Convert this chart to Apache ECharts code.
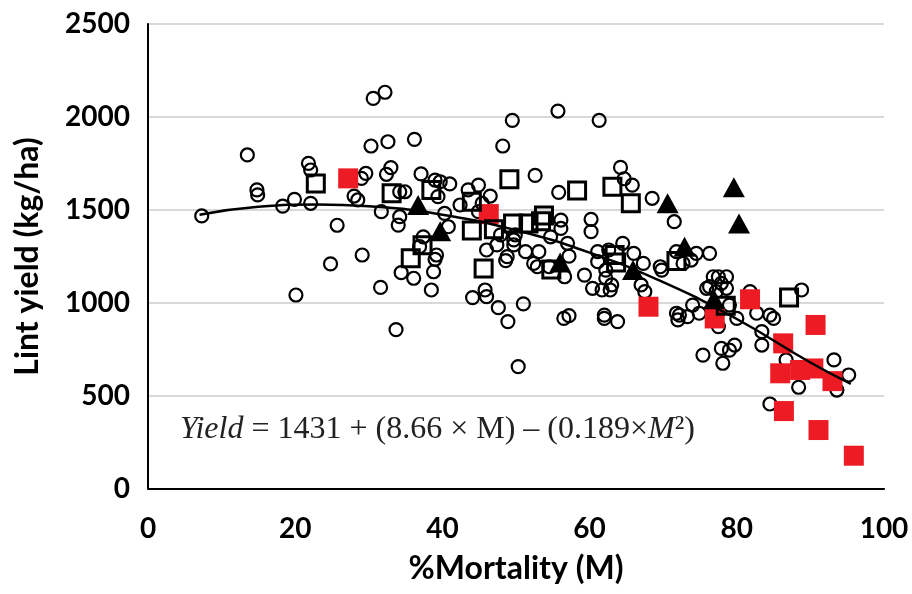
<!DOCTYPE html>
<html>
<head>
<meta charset="utf-8">
<script src="https://cdn.jsdelivr.net/npm/echarts@6/dist/echarts.min.js"></script>
<style>
  html, body { margin: 0; padding: 0; background: #fff; }
  #chart { width: 912px; height: 594px; }
</style>
</head>
<body>
<div id="chart"></div>
<script>
// open circles: [%mortality, lint yield]
const circlePoints = [
  [7.3, 1468], [13.5, 1796], [14.8, 1608], [14.9, 1581], [18.3, 1521], [19.9, 1557],
  [20.1, 1043], [21.8, 1751], [22.1, 1715], [22.1, 1536], [24.8, 1210], [25.7, 1418],
  [28.0, 1575], [28.5, 1554], [29.0, 1670], [29.1, 1258], [29.6, 1697], [30.3, 1844],
  [30.6, 2100], [31.6, 1084], [31.7, 1491], [32.2, 2133], [32.6, 1867], [33.0, 1728],
  [32.4, 1692], [33.7, 857], [34.2, 1598], [34.9, 1598], [34.4, 1163], [34.2, 1464],
  [34.0, 1419], [36.1, 1133], [36.2, 1880], [37.1, 1694], [37.4, 1356], [36.9, 1303],
  [38.5, 1070], [38.8, 1168], [39.0, 1235], [39.2, 1258], [39.0, 1661], [39.7, 1652],
  [41.0, 1640], [39.4, 1572], [40.3, 1482], [40.8, 1410], [42.4, 1527], [43.5, 1608],
  [44.9, 1634], [46.5, 1575], [45.4, 1536], [44.9, 1491], [45.8, 1070], [46.0, 1034],
  [44.1, 1029], [47.6, 975], [48.2, 1844], [49.5, 1982], [48.9, 900], [50.3, 658],
  [51.0, 995], [46.0, 1285], [47.4, 1312], [47.9, 1366], [48.6, 1228], [48.8, 1249],
  [49.7, 1339], [49.7, 1312], [49.9, 1366], [51.3, 1276], [53.1, 1276], [52.4, 1213],
  [52.9, 1195], [54.5, 1195], [52.6, 1686], [54.7, 1356], [55.8, 1595], [55.7, 2032],
  [56.1, 1446], [56.1, 1401], [57.0, 1321], [57.2, 1252], [56.6, 1141], [56.5, 917],
  [57.2, 932], [59.3, 1150], [60.2, 1450], [60.2, 1384], [60.4, 1079], [61.3, 1982],
  [61.1, 1276], [61.1, 1222], [61.7, 1070], [62.2, 1177], [62.2, 1133], [62.8, 1070],
  [63.0, 1097], [62.0, 935], [62.0, 917], [63.8, 900], [64.2, 1729], [64.7, 1668],
  [64.5, 1321], [65.8, 1634], [66.0, 1267], [62.6, 1285], [67.3, 1213], [67.0, 1097],
  [67.5, 1061], [68.5, 1563], [69.6, 1195], [69.8, 1177], [71.5, 1437], [71.8, 1276],
  [72.7, 1213], [73.8, 1231], [74.5, 1267], [76.3, 1267], [76.8, 1141], [77.5, 1141],
  [77.9, 1106], [78.6, 1141], [76.3, 1088], [77.2, 1061], [75.9, 1079], [78.6, 1079],
  [72.2, 935], [73.3, 927], [74.0, 989], [74.9, 945], [72.0, 909], [77.5, 873],
  [71.8, 945], [79.0, 989], [80.0, 917], [81.8, 1061], [82.7, 945], [84.5, 935],
  [85.0, 917], [83.4, 846], [83.4, 774], [75.4, 720], [78.1, 676], [77.9, 756],
  [79.0, 747], [79.7, 774], [88.8, 1070], [93.2, 694], [95.2, 613], [88.4, 547],
  [84.5, 457], [93.6, 532], [86.7, 694]
];

// open squares
const squarePoints = [
  [22.8, 1643], [33.1, 1590], [38.5, 1608], [35.7, 1240], [37.3, 1310], [44.0, 1545],
  [44.0, 1390], [45.6, 1186], [47.0, 1397], [49.1, 1665], [49.6, 1428], [51.7, 1428],
  [53.4, 1440], [53.8, 1470], [54.8, 1180], [58.3, 1605], [63.1, 1625], [65.6, 1536],
  [63.4, 1258], [63.6, 1218], [71.8, 1226], [78.5, 985], [87.1, 1030]
];

// filled triangles
const trianglePoints = [
  [36.7, 1527], [39.7, 1386], [56.0, 1218], [65.9, 1177], [70.6, 1536],
  [72.9, 1303], [76.9, 1020], [79.6, 1622], [80.3, 1428]
];

// red squares
const redPoints = [
  [27.2, 1670], [46.3, 1478], [68.0, 980], [77.0, 917], [81.8, 1020], [86.3, 783],
  [90.7, 882], [85.9, 622], [88.6, 640], [90.4, 648], [93.0, 580], [86.4, 419],
  [91.1, 317], [95.9, 179]
];

// fitted curve
const curvePoints = [
  [7, 1475], [15, 1518], [23, 1530], [30, 1520], [40, 1475], [50, 1391],
  [60, 1271], [70, 1112], [80, 914], [90, 680], [95.5, 565]
];

const xTicks = [0, 20, 40, 60, 80, 100];
const yTicks = [0, 500, 1000, 1500, 2000, 2500];

const chart = echarts.init(document.getElementById('chart'));

const labelFont = 'Lato, "Open Sans", sans-serif';

chart.setOption({
  animation: false,
  grid: { left: 148, right: 28, top: 24, bottom: 105 },
  xAxis: [
    {
      type: 'value',
      min: xTicks[0],
      max: xTicks[xTicks.length - 1],
      interval: 20,
      name: '%Mortality (M)',
      nameLocation: 'middle',
      nameGap: 64,
      nameTextStyle: { fontFamily: labelFont, fontWeight: 'bold', fontSize: 32, color: '#000' },
      axisLine: { lineStyle: { color: '#bfbfbf', width: 2 } },
      axisTick: { show: false },
      splitLine: { show: false },
      axisLabel: { margin: 26, fontFamily: labelFont, fontWeight: 'bold', fontSize: 28, color: '#000' }
    },
    {
      type: 'value', position: 'top', min: 0, max: 100,
      axisLine: { show: true, lineStyle: { color: '#000', width: 2 } },
      axisTick: { show: false }, axisLabel: { show: false }, splitLine: { show: false }
    }
  ],
  yAxis: [
    {
      type: 'value',
      min: yTicks[0],
      max: yTicks[yTicks.length - 1],
      interval: 500,
      name: 'Lint yield (kg/ha)',
      nameLocation: 'middle',
      nameGap: 104,
      nameRotate: 90,
      nameTextStyle: { fontFamily: labelFont, fontWeight: 'bold', fontSize: 32, color: '#000' },
      axisLine: { show: true, lineStyle: { color: '#bfbfbf', width: 2 } },
      axisTick: { show: false },
      splitLine: { lineStyle: { color: '#d9d9d9', width: 2 } },
      axisLabel: {
        margin: 18, fontFamily: labelFont, fontWeight: 'bold', fontSize: 28, color: '#000',
        formatter: function (v) { return String(v); }
      }
    },
    {
      type: 'value', position: 'right', min: 0, max: 2500,
      axisLine: { show: true, lineStyle: { color: '#000', width: 2 } },
      axisTick: { show: false }, axisLabel: { show: false }, splitLine: { show: false }
    }
  ],
  series: [
    {
      type: 'scatter',
      data: circlePoints,
      symbol: 'circle',
      symbolSize: 13,
      itemStyle: { color: 'rgba(255,255,255,0)', borderColor: '#000', borderWidth: 2.2, opacity: 1 },
      z: 2
    },
    {
      type: 'scatter',
      data: redPoints,
      symbol: 'rect',
      symbolSize: 20,
      itemStyle: { color: '#ed1c24', opacity: 1 },
      z: 3
    },
    {
      type: 'scatter',
      data: squarePoints,
      symbol: 'rect',
      symbolSize: 17,
      itemStyle: { color: 'rgba(255,255,255,0)', borderColor: '#000', borderWidth: 3, opacity: 1 },
      z: 4
    },
    {
      type: 'scatter',
      data: trianglePoints,
      symbol: 'triangle',
      symbolSize: [22, 20],
      itemStyle: { color: '#000', opacity: 1 },
      z: 5
    },
    {
      type: 'line',
      data: curvePoints,
      smooth: true,
      showSymbol: false,
      lineStyle: { color: '#000', width: 2.5 },
      z: 6
    }
  ],
  graphic: [
    {
      type: 'text',
      left: 180,
      top: 414,
      style: {
        text: '{i|Yield} = 1431 + (8.66 × M) – (0.189×{i|M}²)',
        font: '32px "Liberation Serif", "Times New Roman", serif',
        fill: '#222',
        rich: {
          i: { fontStyle: 'italic', fontFamily: '"Liberation Serif", serif', fontSize: 32, fill: '#222' }
        }
      }
    }
  ]
});
</script>
</body>
</html>
